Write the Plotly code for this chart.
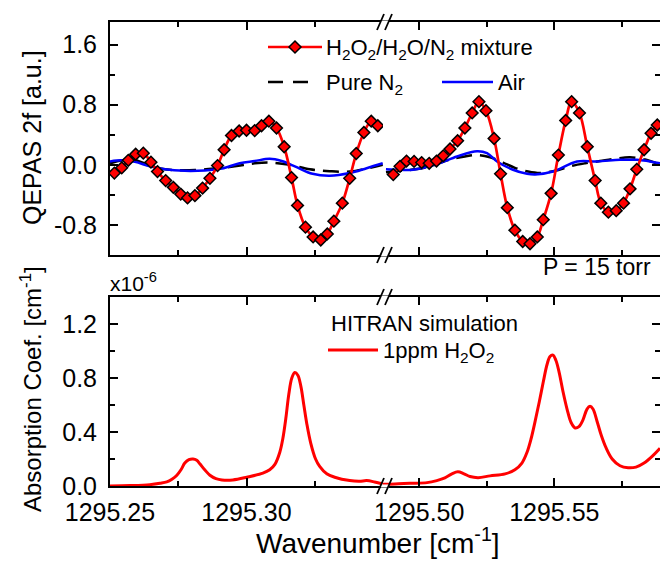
import plotly.graph_objects as go

# ---------------- data ----------------
# top panel, left segment: H2O2/H2O/N2 mixture (QEPAS 2f)
mix_left_x = [1295.2516, 1295.2543, 1295.2567, 1295.2594, 1295.2622, 1295.2650, 1295.2674,
              1295.2704, 1295.2732, 1295.2759, 1295.2784, 1295.2811, 1295.2839, 1295.2866,
              1295.2894, 1295.2918, 1295.2945, 1295.2973, 1295.3000, 1295.3030, 1295.3055,
              1295.3082, 1295.3110, 1295.3138, 1295.3165, 1295.3187, 1295.3216, 1295.3244,
              1295.3272, 1295.3296, 1295.3320, 1295.3351, 1295.3378, 1295.3402, 1295.3430,
              1295.3457, 1295.3481]
mix_left_y = [-0.11, -0.04, 0.06, 0.14, 0.155, 0.035, -0.09, -0.21, -0.30, -0.39, -0.44, -0.41,
              -0.31, -0.18, -0.01, 0.20, 0.39, 0.45, 0.46, 0.455, 0.52, 0.58, 0.49, 0.24, -0.17,
              -0.54, -0.83, -0.96, -1.00, -0.92, -0.75, -0.51, -0.18, 0.15, 0.43, 0.58, 0.52]
# top panel, right segment
mix_right_x = [1295.4904, 1295.4929, 1295.4953, 1295.4981, 1295.5009, 1295.5037, 1295.5064,
               1295.5089, 1295.5114, 1295.5142, 1295.5169, 1295.5196, 1295.5221, 1295.5247,
               1295.5277, 1295.5301, 1295.5326, 1295.5354, 1295.5383, 1295.5410, 1295.5437,
               1295.5459, 1295.5488, 1295.5515, 1295.5542, 1295.5564, 1295.5593, 1295.5622,
               1295.5651, 1295.5672, 1295.5700, 1295.5729, 1295.5756, 1295.5780, 1295.5805,
               1295.5832, 1295.5858, 1295.5881]
mix_right_y = [-0.13, -0.02, 0.05, 0.045, 0.03, 0.02, 0.05, 0.12, 0.21, 0.32, 0.49, 0.69, 0.84,
               0.72, 0.35, -0.12, -0.57, -0.87, -1.02, -1.05, -0.96, -0.73, -0.38, 0.13, 0.59,
               0.84, 0.69, 0.24, -0.21, -0.51, -0.63, -0.61, -0.51, -0.32, -0.06, 0.20, 0.42, 0.53]

# Pure N2
n2_left_x = [1295.2500, 1295.2544, 1295.2580, 1295.2628, 1295.2683, 1295.2738, 1295.2811,
             1295.2884, 1295.2957, 1295.3030, 1295.3085, 1295.3158, 1295.3232, 1295.3305,
             1295.3378, 1295.3440, 1295.3499]
n2_left_y = [0.02, 0.06, 0.07, 0.02, -0.05, -0.07, -0.07, -0.05, -0.02, 0.02, 0.03, 0.0,
             -0.06, -0.085, -0.09, -0.05, 0.0]
n2_right_x = [1295.4877, 1295.4929, 1295.4984, 1295.5040, 1295.5103, 1295.5169, 1295.5214,
              1295.5262, 1295.5310, 1295.5354, 1295.5403, 1295.5447, 1295.5503, 1295.5558,
              1295.5614, 1295.5669, 1295.5725, 1295.5780, 1295.5836, 1295.5891]
n2_right_y = [-0.10, -0.08, -0.06, -0.02, 0.06, 0.11, 0.13, 0.10, 0.03, -0.04, -0.09, -0.11,
              -0.08, -0.02, 0.02, 0.05, 0.08, 0.10, 0.07, 0.0]

# Air
air_left_x = [1295.2500, 1295.2544, 1295.2591, 1295.2646, 1295.2701, 1295.2774, 1295.2847,
              1295.2910, 1295.2975, 1295.3030, 1295.3085, 1295.3129, 1295.3177, 1295.3242,
              1295.3305, 1295.3378, 1295.3440, 1295.3499]
air_left_y = [0.045, 0.06, 0.04, -0.02, -0.06, -0.08, -0.075, -0.05, 0.02, 0.05, 0.08, 0.05,
              -0.02, -0.12, -0.145, -0.11, -0.045, 0.02]
air_right_x = [1295.4877, 1295.4929, 1295.4977, 1295.5066, 1295.5140, 1295.5214, 1295.5251,
               1295.5288, 1295.5347, 1295.5399, 1295.5429, 1295.5495, 1295.5584, 1295.5658,
               1295.5743, 1295.5806, 1295.5891]
air_right_y = [-0.06, -0.066, -0.066, 0.01, 0.11, 0.18, 0.155, 0.045, -0.066, -0.12, -0.13,
               -0.09, 0.045, 0.045, 0.066, 0.066, 0.02]

# bottom panel: HITRAN simulation, 1 ppm H2O2 (x1e-6 cm^-1)
hit_left_x = [1295.2500, 1295.2573, 1295.2646, 1295.2683, 1295.2708, 1295.2727, 1295.2745,
              1295.2760, 1295.2774, 1295.2789, 1295.2804, 1295.2818, 1295.2829, 1295.2847,
              1295.2866, 1295.2888, 1295.2910, 1295.2950, 1295.3001, 1295.3060, 1295.3085,
              1295.3104, 1295.3122, 1295.3133, 1295.3144, 1295.3155, 1295.3166, 1295.3177,
              1295.3188, 1295.3199, 1295.3210, 1295.3221, 1295.3235, 1295.3253, 1295.3268,
              1295.3294, 1295.3323, 1295.3378, 1295.3414, 1295.3440, 1295.3469, 1295.3499]
hit_left_y = [0.0, 0.003, 0.01, 0.02, 0.03, 0.05, 0.08, 0.12, 0.17, 0.195, 0.20, 0.19, 0.165,
              0.12, 0.08, 0.055, 0.045, 0.045, 0.065, 0.095, 0.12, 0.16, 0.25, 0.35, 0.50, 0.68,
              0.80, 0.84, 0.82, 0.74, 0.60, 0.46, 0.32, 0.20, 0.145, 0.09, 0.065, 0.04, 0.035,
              0.04, 0.03, 0.015]
hit_right_x = [1295.4866, 1295.4910, 1295.4966, 1295.5029, 1295.5065, 1295.5095, 1295.5121,
               1295.5143, 1295.5166, 1295.5188, 1295.5218, 1295.5262, 1295.5318, 1295.5354,
               1295.5380, 1295.5399, 1295.5414, 1295.5429, 1295.5444, 1295.5459, 1295.5473,
               1295.5484, 1295.5495, 1295.5506, 1295.5518, 1295.5532, 1295.5547, 1295.5562,
               1295.5577, 1295.5591, 1295.5606, 1295.5621, 1295.5632, 1295.5643, 1295.5658,
               1295.5673, 1295.5692, 1295.5714, 1295.5743, 1295.5773, 1295.5802, 1295.5832,
               1295.5862, 1295.5891]
hit_right_y = [0.013, 0.015, 0.02, 0.025, 0.04, 0.06, 0.09, 0.105, 0.09, 0.07, 0.062, 0.075,
               0.09, 0.12, 0.17, 0.25, 0.35, 0.48, 0.62, 0.77, 0.90, 0.96, 0.97, 0.93, 0.84,
               0.70, 0.57, 0.47, 0.43, 0.44, 0.49, 0.57, 0.59, 0.57, 0.48, 0.38, 0.28, 0.20,
               0.15, 0.135, 0.14, 0.17, 0.22, 0.28]

# axis ranges & ticks
x_left_range = [1295.25, 1295.35]
x_right_range = [1295.4866, 1295.5891]
x_left_ticks = [1295.25, 1295.30]
x_left_ticktext = ["1295.25", "1295.30"]
x_right_ticks = [1295.50, 1295.55]
x_right_ticktext = ["1295.50", "1295.55"]
top_y_range = [-1.2, 1.9]
top_y_ticks = [-0.8, 0.0, 0.8, 1.6]
top_y_ticktext = ["-0.8", "0.0", "0.8", "1.6"]
top_y_minor = [-1.2, -0.4, 0.4, 1.2]
bot_y_range = [0, 1.4]
bot_y_ticks = [0.0, 0.4, 0.8, 1.2]
bot_y_ticktext = ["0.0", "0.4", "0.8", "1.2"]
bot_y_minor = [0.2, 0.6, 1.0]

# ---------------- layout helpers ----------------
W, H = 660, 561
ML, MR, MT, MB = 110, 0, 22, 75
PW, PH = W - ML - MR, H - MT - MB


def pxx(x):
    return (x - ML) / PW


def pyy(y):
    return (H - MB - y) / PH


FONT = "Liberation Sans, Arial, sans-serif"
RED, BLUE, BLACK = "#ff0000", "#0000ff", "#000000"
split = pxx(383)
top_dom = [pyy(255), 1.0]
bot_dom = [0.0, pyy(297)]

fig = go.Figure()

mk = dict(symbol="diamond", size=9, color=RED, line=dict(color=BLACK, width=1.5))
DASH = "16px,8px"

# top left
fig.add_trace(go.Scatter(x=n2_left_x, y=n2_left_y, mode="lines", line=dict(color=BLACK, width=2.5, dash=DASH, shape="spline"), xaxis="x", yaxis="y"))
fig.add_trace(go.Scatter(x=air_left_x, y=air_left_y, mode="lines", line=dict(color=BLUE, width=2.5, shape="spline"), xaxis="x", yaxis="y"))
fig.add_trace(go.Scatter(x=mix_left_x, y=mix_left_y, mode="lines+markers", line=dict(color=RED, width=2.7, shape="spline"), marker=mk, xaxis="x", yaxis="y"))
# top right
fig.add_trace(go.Scatter(x=n2_right_x, y=n2_right_y, mode="lines", line=dict(color=BLACK, width=2.5, dash=DASH, shape="spline"), xaxis="x2", yaxis="y2"))
fig.add_trace(go.Scatter(x=air_right_x, y=air_right_y, mode="lines", line=dict(color=BLUE, width=2.5, shape="spline"), xaxis="x2", yaxis="y2"))
fig.add_trace(go.Scatter(x=mix_right_x, y=mix_right_y, mode="lines+markers", line=dict(color=RED, width=2.7, shape="spline"), marker=mk, xaxis="x2", yaxis="y2"))
# bottom
fig.add_trace(go.Scatter(x=hit_left_x, y=hit_left_y, mode="lines", line=dict(color=RED, width=3, shape="spline"), xaxis="x3", yaxis="y3"))
fig.add_trace(go.Scatter(x=hit_right_x, y=hit_right_y, mode="lines", line=dict(color=RED, width=3, shape="spline"), xaxis="x4", yaxis="y4"))

tickfont = dict(family=FONT, size=25, color=BLACK)


def xax(dom, rng, ticks, ttext, anchor, labels):
    return dict(domain=dom, range=rng, anchor=anchor, showline=True, linewidth=2, linecolor=BLACK,
                mirror="allticks", ticks="inside", ticklen=8, tickwidth=2, tickcolor=BLACK,
                tickmode="array", tickvals=ticks, ticktext=ttext, showticklabels=labels,
                tickfont=tickfont, showgrid=False, zeroline=False, ticklabelstandoff=3,
                minor=dict(ticks="inside", ticklen=5, tickwidth=2, tickcolor=BLACK,
                           tick0=1295.25, dtick=0.025, showgrid=False))


def yax(dom, rng, ticks, ttext, minor, anchor, side, labels):
    return dict(domain=dom, range=rng, anchor=anchor, side=side, showline=labels, linewidth=2,
                linecolor=BLACK, ticks="inside", ticklen=8, tickwidth=2, tickcolor=BLACK,
                tickmode="array", tickvals=ticks, ticktext=ttext, showticklabels=labels,
                tickfont=tickfont, showgrid=False, zeroline=False, ticklabelstandoff=6,
                minor=dict(ticks="inside", ticklen=5, tickwidth=2, tickcolor=BLACK,
                           tickvals=minor, showgrid=False))


fig.update_layout(
    width=W, height=H, margin=dict(l=ML, r=MR, t=MT, b=MB),
    paper_bgcolor="white", plot_bgcolor="white", showlegend=False,
    font=dict(family=FONT, color=BLACK),
    xaxis=xax([0, split], x_left_range, x_left_ticks, x_left_ticktext, "y", False),
    xaxis2=xax([split, 1], x_right_range, x_right_ticks, x_right_ticktext, "y2", False),
    xaxis3=xax([0, split], x_left_range, x_left_ticks, x_left_ticktext, "y3", True),
    xaxis4=xax([split, 1], x_right_range, x_right_ticks, x_right_ticktext, "y4", True),
    yaxis=yax(top_dom, top_y_range, top_y_ticks, top_y_ticktext, top_y_minor, "x", "left", True),
    yaxis2=yax(top_dom, top_y_range, top_y_ticks, top_y_ticktext, top_y_minor, "x2", "right", False),
    yaxis3=yax(bot_dom, bot_y_range, bot_y_ticks, bot_y_ticktext, bot_y_minor, "x3", "left", True),
    yaxis4=yax(bot_dom, bot_y_range, bot_y_ticks, bot_y_ticktext, bot_y_minor, "x4", "right", False),
)

shapes = []
# axis break marks
for yb in [22, 255, 297, 486]:
    shapes.append(dict(type="line", xref="paper", yref="paper", x0=pxx(381), x1=pxx(389),
                       y0=pyy(yb), y1=pyy(yb), line=dict(color="white", width=3)))
    for xs in [377, 385]:
        shapes.append(dict(type="line", xref="paper", yref="paper", x0=pxx(xs), y0=pyy(yb + 8),
                           x1=pxx(xs + 7), y1=pyy(yb - 8), line=dict(color=BLACK, width=1.8)))

# legend samples
shapes.append(dict(type="line", xref="paper", yref="paper", x0=pxx(268), x1=pxx(322), y0=pyy(47), y1=pyy(47), line=dict(color=RED, width=2.7)))
shapes.append(dict(type="path", xref="paper", yref="paper", xsizemode="pixel", ysizemode="pixel",
                   xanchor=pxx(295), yanchor=pyy(47), path="M-6,0 L0,6 L6,0 L0,-6 Z",
                   fillcolor=RED, line=dict(color=BLACK, width=1.5)))
shapes.append(dict(type="line", xref="paper", yref="paper", x0=pxx(268), x1=pxx(315), y0=pyy(82), y1=pyy(82), line=dict(color=BLACK, width=2.5, dash="15px,10px")))
shapes.append(dict(type="line", xref="paper", yref="paper", x0=pxx(442), x1=pxx(493), y0=pyy(82), y1=pyy(82), line=dict(color=BLUE, width=2.5)))
shapes.append(dict(type="line", xref="paper", yref="paper", x0=pxx(328), x1=pxx(378), y0=pyy(350), y1=pyy(350), line=dict(color=RED, width=3)))

ann = []


def text(t, x, y, size, xanchor="left", yanchor="middle", angle=0):
    ann.append(dict(text=t, x=pxx(x), y=pyy(y), xref="paper", yref="paper", showarrow=False,
                    xanchor=xanchor, yanchor=yanchor, textangle=angle,
                    font=dict(family=FONT, size=size, color=BLACK)))


text("H<sub>2</sub>O<sub>2</sub>/H<sub>2</sub>O/N<sub>2</sub> mixture", 324, 49, 22)
text("Pure N<sub>2</sub>", 324, 84, 22)
text("Air", 496, 82, 22)
text("HITRAN simulation", 329, 323, 22)
text("1ppm H<sub>2</sub>O<sub>2</sub>", 381, 352, 22)
text("P = 15 torr", 653, 267, 23, xanchor="right")
text("x10<sup>-6</sup>", 108, 282, 21)
text("QEPAS 2f [a.u.]", 32, 138, 25, xanchor="center", angle=-90)
text("Absorption Coef. [cm<sup>-1</sup>]", 31, 389, 24, xanchor="center", angle=-90)
text("Wavenumber [cm<sup>-1</sup>]", 378, 561, 28, xanchor="center", yanchor="bottom")

fig.update_layout(shapes=shapes, annotations=ann)
fig.write_html("out.html", config={"displayModeBar": False},
               post_script="document.body.style.margin='0px';")
